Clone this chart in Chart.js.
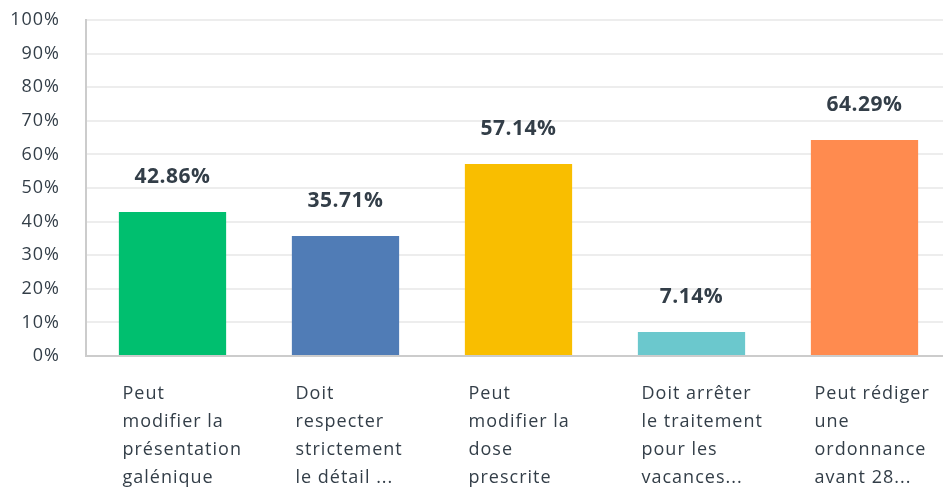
<!DOCTYPE html>
<html>
<head>
<meta charset="utf-8">
<script src="https://cdn.jsdelivr.net/npm/chart.js@4"></script>
<style>
  html, body { margin: 0; padding: 0; background: #fff; overflow: hidden; }
  #wrap { width: 951px; height: 488px; position: relative; }
</style>
</head>
<body>
<div id="wrap"><canvas id="myChart"></canvas></div>
<script>
const categories = [
  ['Peut', 'modifier la', 'présentation', 'galénique'],
  ['Doit', 'respecter', 'strictement', 'le détail ...'],
  ['Peut', 'modifier la', 'dose', 'prescrite'],
  ['Doit arrêter', 'le traitement', 'pour les', 'vacances...'],
  ['Peut rédiger', 'une', 'ordonnance', 'avant 28...']
];
const values = [42.86, 35.71, 57.14, 7.14, 64.29];
const barColors = ['#00bf6f', '#507cb6', '#f9be00', '#6bc8cd', '#ff8b4f'];
const yTicks = [0, 10, 20, 30, 40, 50, 60, 70, 80, 90, 100];

const textColor = '#333e48';
const fontFamily = '"Open Sans", "Noto Sans", sans-serif';

// wider letter spacing like the original font
const spacing = {
  id: 'spacing',
  beforeDraw(chart) { chart.ctx.letterSpacing = '1px'; }
};

const valueLabels = {
  id: 'valueLabels',
  afterDatasetsDraw(chart) {
    const c = chart.ctx;
    const meta = chart.getDatasetMeta(0);
    c.save();
    c.letterSpacing = '0.5px';
    c.font = 'bold 21px ' + fontFamily;
    c.fillStyle = textColor;
    c.textAlign = 'center';
    c.textBaseline = 'middle';
    meta.data.forEach((bar, i) => {
      c.fillText(values[i].toFixed(2) + '%', bar.x, bar.y - 35);
    });
    c.restore();
  }
};

const ctx = document.getElementById('myChart');

new Chart(ctx, {
  type: 'bar',
  data: {
    labels: categories,
    datasets: [{
      data: values,
      backgroundColor: barColors,
      borderWidth: 0,
      barPercentage: 0.62,
      categoryPercentage: 1
    }]
  },
  options: {
    responsive: true,
    maintainAspectRatio: false,
    animation: false,
    layout: { padding: { top: 20, right: 0, left: 0, bottom: 0 } },
    plugins: {
      legend: { display: false },
      tooltip: { enabled: false }
    },
    scales: {
      x: {
        grid: { display: false, drawTicks: false },
        border: { color: '#cccccc', width: 2 },
        afterFit(axis) {
          axis.height = 132;
          axis.paddingLeft = 0;
          axis.paddingRight = 0;
        },
        ticks: {
          color: textColor,
          font: { family: fontFamily, size: 18, lineHeight: 1.55 },
          align: 'start',
          labelOffset: -50,
          padding: 24,
          maxRotation: 0,
          autoSkip: false
        }
      },
      y: {
        min: 0,
        max: 100,
        afterBuildTicks(axis) { axis.ticks = yTicks.map(v => ({ value: v })); },
        afterFit(axis) {
          axis.width = 86;
          axis.paddingTop = 0;
          axis.paddingBottom = 0;
        },
        grid: { color: '#ededed', lineWidth: 2, drawTicks: false },
        border: { color: '#cccccc', width: 2 },
        ticks: {
          color: textColor,
          font: { family: fontFamily, size: 18 },
          padding: 26,
          callback: v => v + '%'
        }
      }
    }
  },
  plugins: [spacing, valueLabels]
});
</script>
</body>
</html>
